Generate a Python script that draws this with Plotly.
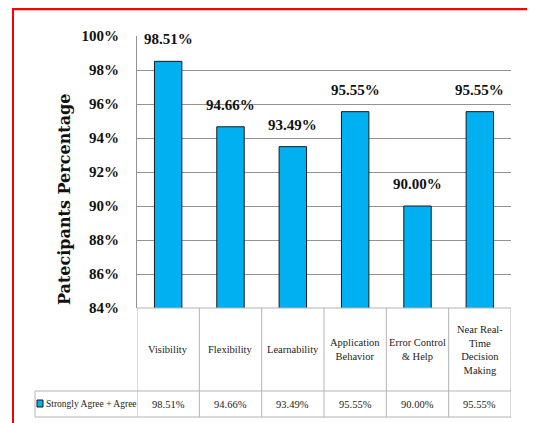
import plotly.graph_objects as go

categories = ["Visibility", "Flexibility", "Learnability", "Application<br>Behavior",
              "Error Control<br>& Help", "Near Real-<br>Time<br>Decision<br>Making"]
values = [98.51, 94.66, 93.49, 95.55, 90.00, 95.55]
value_labels = ["98.51%", "94.66%", "93.49%", "95.55%", "90.00%", "95.55%"]
series_name = "Strongly Agree + Agree"
y_ticks = [84, 86, 88, 90, 92, 94, 96, 98, 100]
y_tick_labels = ["84%", "86%", "88%", "90%", "92%", "94%", "96%", "98%", "100%"]

BAR = "#00B0F0"
GRID = "#939393"
TBL = "#b4b4b4"
SERIF = "Liberation Serif, Times New Roman, serif"

OFF = 8  # page body margin
W, H = 535 - OFF, 423 - OFF
PL, PR, PT, PB = 137, 511, 36, 308  # plot area in page pixels
L, T = PL - OFF, PT - OFF
R, B = W - (PR - OFF), H - (PB - OFF)
pw, ph = PR - PL, PB - PT

def px_x(p):
    return (p - PL) / pw

def px_y(p):
    return (PB - p) / ph

n = len(categories)
xs = list(range(n))

fig = go.Figure()
fig.add_trace(go.Bar(
    x=xs, y=values, name=series_name,
    marker=dict(color=BAR, line=dict(color="#1a1a1a", width=1)),
    width=0.44, showlegend=False,
))

annotations = []
for i, (v, lab) in enumerate(zip(values, value_labels)):
    annotations.append(dict(x=i, y=v, xref="x", yref="y", text="<b>" + lab + "</b>",
                            showarrow=False, xanchor="center", yanchor="middle", yshift=22,
                            font=dict(family=SERIF, size=15, color="#111")))
for i, (c, lab) in enumerate(zip(categories, value_labels)):
    annotations.append(dict(x=i, y=(px_y(308) + px_y(391)) / 2, xref="x", yref="paper",
                            text=c, showarrow=False, align="center",
                            xanchor="center", yanchor="middle",
                            font=dict(family=SERIF, size=10.5, color="#222")))
    annotations.append(dict(x=i, y=(px_y(391) + px_y(417)) / 2, xref="x", yref="paper",
                            text=lab, showarrow=False, xanchor="center", yanchor="middle",
                            font=dict(family=SERIF, size=10.5, color="#222")))
annotations.append(dict(x=px_x(44), y=(px_y(391) + px_y(417)) / 2, xref="paper", yref="paper",
                        text=series_name, showarrow=False, xanchor="left", yanchor="middle",
                        font=dict(family=SERIF, size=9.5, color="#222")))
annotations.append(dict(x=px_x(64), y=px_y(200), xref="paper", yref="paper",
                        text="<b>Patecipants Percentage</b>", showarrow=False, textangle=-90,
                        xanchor="center", yanchor="middle",
                        font=dict(family="DejaVu Serif, serif", size=16, color="#111")))

shapes = []
for k in range(n + 1):
    shapes.append(dict(type="line", xref="x", yref="paper", x0=k - 0.5, x1=k - 0.5,
                       y0=px_y(308), y1=px_y(417), line=dict(color=TBL, width=1)))
shapes.append(dict(type="line", xref="paper", yref="paper", x0=0, x1=1,
                   y0=0, y1=0, line=dict(color=TBL, width=1.2)))
for yy in (391, 417):
    shapes.append(dict(type="line", xref="paper", yref="paper", x0=px_x(35), x1=1,
                       y0=px_y(yy), y1=px_y(yy), line=dict(color=TBL, width=1)))
shapes.append(dict(type="line", xref="paper", yref="paper", x0=px_x(35), x1=px_x(35),
                   y0=px_y(391), y1=px_y(417), line=dict(color=TBL, width=1)))
shapes.append(dict(type="rect", xref="paper", yref="paper", x0=px_x(37), x1=px_x(43),
                   y0=px_y(407), y1=px_y(400), fillcolor=BAR,
                   line=dict(color="#1a1a1a", width=1)))
# red frame: top and left edges only
shapes.append(dict(type="line", xref="paper", yref="paper", x0=px_x(12), x1=px_x(540),
                   y0=px_y(9), y1=px_y(9), line=dict(color="#ff0000", width=2.5), layer="above"))
shapes.append(dict(type="line", xref="paper", yref="paper", x0=px_x(13), x1=px_x(13),
                   y0=px_y(8), y1=px_y(430), line=dict(color="#ff0000", width=2), layer="above"))

fig.update_layout(
    width=W, height=H, autosize=False,
    margin=dict(l=L, r=R, t=T, b=B, pad=0),
    paper_bgcolor="white", plot_bgcolor="white",
    annotations=annotations, shapes=shapes,
    xaxis=dict(range=[-0.5, n - 0.5], showticklabels=False, showgrid=False,
               zeroline=False, showline=False, ticks=""),
    yaxis=dict(range=[84, 100], tickvals=y_ticks,
               ticktext=["<b>" + t + "</b>" for t in y_tick_labels],
               showgrid=True, gridcolor=GRID, gridwidth=1, zeroline=False,
               showline=True, linecolor=GRID, linewidth=1, ticks="",
               ticklabelstandoff=14,
               tickfont=dict(family=SERIF, size=15, color="#111")),
)

fig.write_html("out.html")
